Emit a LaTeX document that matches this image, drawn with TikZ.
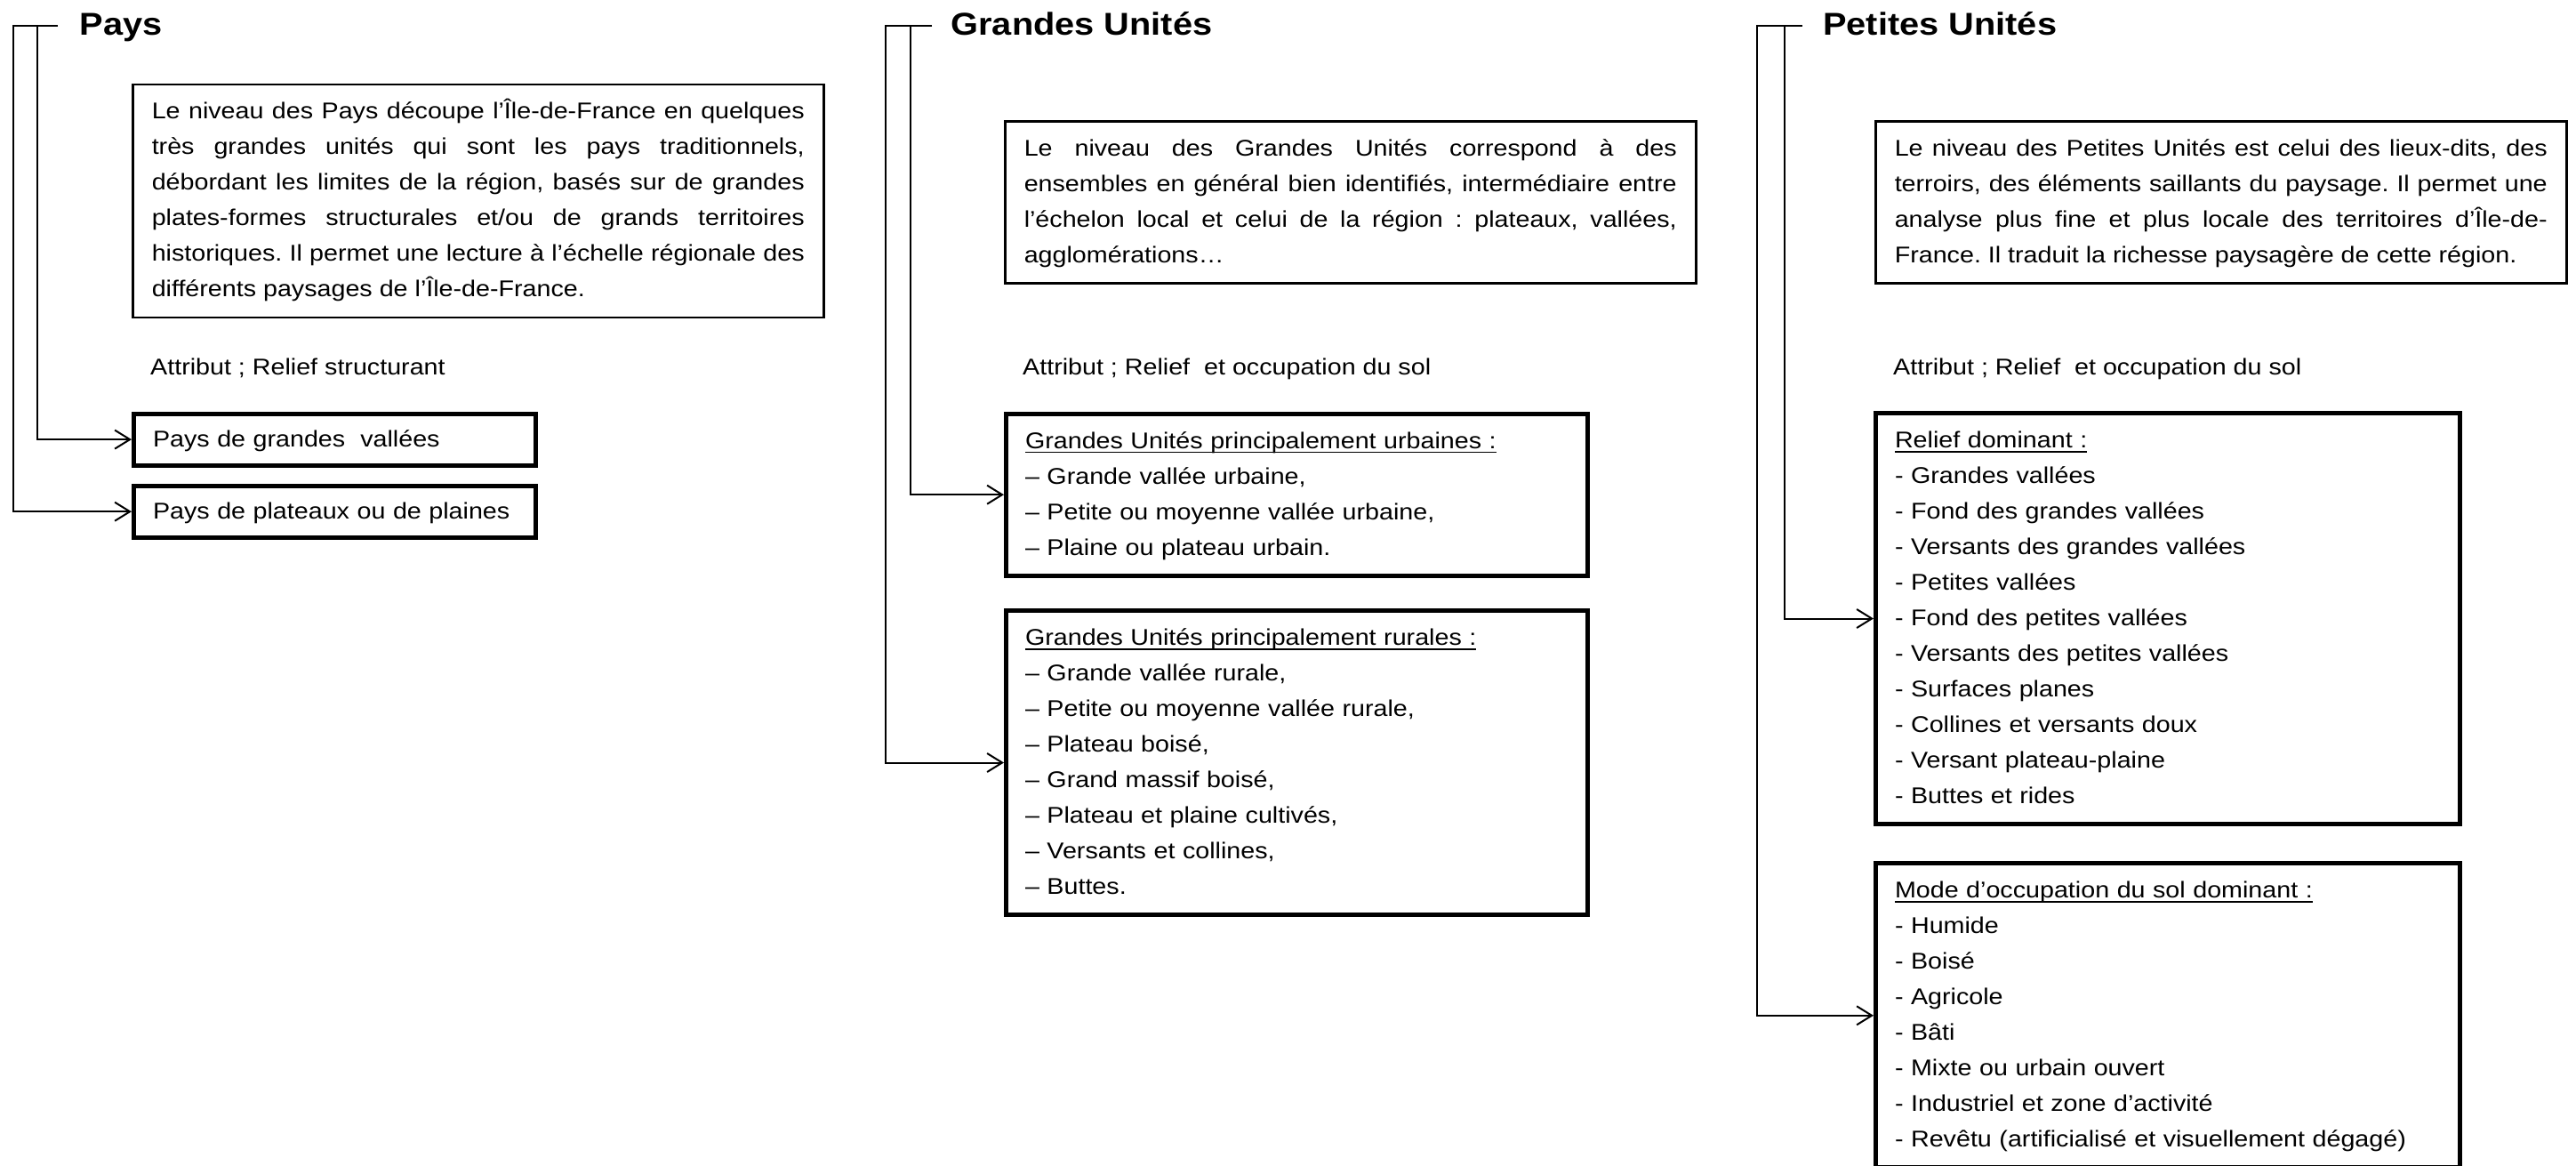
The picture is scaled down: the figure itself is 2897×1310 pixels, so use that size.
\documentclass[tikz,border=0pt]{standalone}
\usepackage{fontspec}
\setmainfont{Liberation Sans}[FakeStretch=1.12]
\usetikzlibrary{arrows.meta}
\newcommand\justline[1]{\spaceskip=0pt\xspaceskip=0pt\relax\makebox[\linewidth][s]{\strut#1}}
\newcommand\myul[1]{\setbox0\hbox{#1}\rlap{\rule[-5pt]{\wd0}{1.6pt}}\box0}
\tikzset{
  txt/.style={font=\fontsize{25.6}{40}\selectfont\frenchspacing},
  desc/.style={txt, draw, line width=2.5pt, anchor=north west, inner xsep=21.5pt, inner ysep=11pt, text width=734pt},
  listbox/.style={txt, draw, line width=5pt, anchor=north west, inner xsep=21.5pt, inner ysep=11pt},
  singlebox/.style={listbox, inner ysep=9pt},
  head/.style={anchor=base west, inner sep=0pt, font=\fontsize{35.5}{40}\selectfont\bfseries},
  attr/.style={txt, anchor=base west, inner sep=0pt},
  link/.style={line width=2pt, -{Straight Barb[length=17pt,width=21pt]}}
}
\begin{document}
\begin{tikzpicture}[x=1pt,y=-1pt]
\fill[white] (0,0) rectangle (2897,1310);
\useasboundingbox (0,0) rectangle (2897,1310);

% headings
\node[head] (hp) at (89.3,39.3) {Pays};
\node[head] (hg) at (1069.3,39.3) {Grandes Unités};
\node[head] (hu) at (2050,39.3) {Petites Unités};

% description boxes
\node[desc] (dp) at (148,93.7) {\justline{Le niveau des Pays découpe l’Île-de-France en quelques}\\
\justline{très grandes unités qui sont les pays traditionnels,}\\
\justline{débordant les limites de la région, basés sur de grandes}\\
\justline{plates-formes structurales et/ou de grands territoires}\\
\justline{historiques. Il permet une lecture à l’échelle régionale des}\\
\strut différents paysages de l’Île-de-France.};

\node[desc] (dg) at (1129,135) {\justline{Le niveau des Grandes Unités correspond à des}\\
\justline{ensembles en général bien identifiés, intermédiaire entre}\\
\justline{l’échelon local et celui de la région : plateaux, vallées,}\\
\strut agglomérations…};

\node[desc] (du) at (2108,135) {\justline{Le niveau des Petites Unités est celui des lieux-dits, des}\\
\justline{terroirs, des éléments saillants du paysage. Il permet une}\\
\justline{analyse plus fine et plus locale des territoires d’Île-de-}\\
\strut France. Il traduit la richesse paysagère de cette région.};

% attributes
\node[attr] (ap) at (169,421) {Attribut ; Relief structurant};
\node[attr] (ag) at (1150,421) {Attribut ; Relief\ \ et occupation du sol};
\node[attr] (au) at (2129,421) {Attribut ; Relief\ \ et occupation du sol};

% Pays boxes
\node[singlebox, text width=409pt] (pb1) at (148,462.6) {\strut Pays de grandes\ \ vallées};
\node[singlebox, text width=409pt] (pb2) at (148,543.7) {\strut Pays de plateaux ou de plaines};

% Grandes Unites boxes
\node[listbox, text width=611pt] (gb1) at (1129,462.7) {\strut\myul{Grandes Unités principalement urbaines :}\\
\strut – Grande vallée urbaine,\\
\strut – Petite ou moyenne vallée urbaine,\\
\strut – Plaine ou plateau urbain.};
\node[listbox, text width=611pt] (gb2) at (1129,684) {\strut\myul{Grandes Unités principalement rurales :}\\
\strut – Grande vallée rurale,\\
\strut – Petite ou moyenne vallée rurale,\\
\strut – Plateau boisé,\\
\strut – Grand massif boisé,\\
\strut – Plateau et plaine cultivés,\\
\strut – Versants et collines,\\
\strut – Buttes.};

% Petites Unites boxes
\node[listbox, text width=614pt] (ub1) at (2107,462) {\strut\myul{Relief dominant :}\\
\strut - Grandes vallées\\
\strut - Fond des grandes vallées\\
\strut - Versants des grandes vallées\\
\strut - Petites vallées\\
\strut - Fond des petites vallées\\
\strut - Versants des petites vallées\\
\strut - Surfaces planes\\
\strut - Collines et versants doux\\
\strut - Versant plateau-plaine\\
\strut - Buttes et rides};
\node[listbox, text width=614pt] (ub2) at (2107,968.3) {\strut\myul{Mode d’occupation du sol dominant :}\\
\strut - Humide\\
\strut - Boisé\\
\strut - Agricole\\
\strut - Bâti\\
\strut - Mixte ou urbain ouvert\\
\strut - Industriel et zone d’activité\\
\strut - Revêtu (artificialisé et visuellement dégagé)};

% brackets and connectors
\coordinate (pO) at (15,29.3);
\coordinate (pI) at (41.7,29.3);
\coordinate (pE) at (65,29.3);
\draw[link] (pE) -- (pO) |- (pb2.west);
\draw[link] (pI) |- (pb1.west);

\coordinate (gO) at (995.7,29.3);
\coordinate (gI) at (1024,29.3);
\coordinate (gE) at (1048.3,29.3);
\draw[link] (gE) -- (gO) |- (gb2.west);
\draw[link] (gI) |- (gb1.west);

\coordinate (uO) at (1975.7,29.3);
\coordinate (uI) at (2006.7,29.3);
\coordinate (uE) at (2026.7,29.3);
\draw[link] (uE) -- (uO) |- (ub2.west);
\draw[link] (uI) |- (ub1.west);
\end{tikzpicture}
\end{document}
